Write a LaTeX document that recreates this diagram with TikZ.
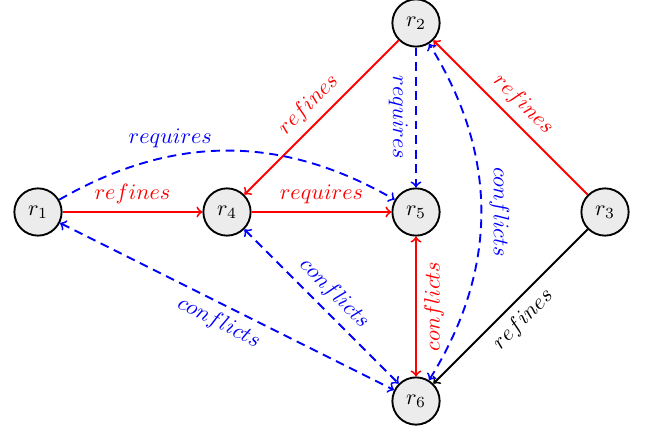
\documentclass[tikz,border=0pt]{standalone}
\begin{document}
\begin{tikzpicture}[
  st/.style={circle, draw, line width=0.85pt, fill=gray!15, minimum size=0.75cm, inner sep=0pt},
  redarr/.style={->, line width=0.85pt, red},
  blackarr/.style={->, line width=0.85pt, black},
  bluedash/.style={line width=0.85pt, blue, dash pattern=on 4pt off 2.6pt}
]
\useasboundingbox (-0.603,-3.492) rectangle (9.698,3.365);
\node[st] (r1) at (0,0) {$r_1$};
\node[st] (r4) at (3,0) {$r_4$};
\node[st] (r5) at (6,0) {$r_5$};
\node[st] (r3) at (9,0) {$r_3$};
\node[st] (r2) at (6,3) {$r_2$};
\node[st] (r6) at (6,-3) {$r_6$};

\draw[redarr] (r1) -- node[above]{$refines$} (r4);
\draw[redarr] (r4) -- node[above]{$requires$} (r5);
\draw[redarr] (r2) -- node[above, sloped]{$refines$} (r4);
\draw[redarr] (r3) -- node[above, sloped]{$refines$} (r2);
\draw[blackarr] (r3) -- node[below, sloped]{$refines$} (r6);
\draw[line width=0.85pt, red, <->] (r5) -- node[midway, rotate=90, anchor=north]{$conflicts$} (r6);
\draw[bluedash, ->] (r2) -- node[midway, rotate=-90, anchor=north]{$requires$} (r5);
\draw[bluedash, ->] (r1) to[bend left=30] node[pos=0.33, above]{$requires$} (r5);
\draw[bluedash, <->] (r4) -- node[above, sloped]{$conflicts$} (r6);
\draw[bluedash, <->] (r1) -- node[below, sloped]{$conflicts$} (r6);
\draw[bluedash, <->] (r6) to[bend right=32] node[midway, rotate=-90, anchor=south]{$conflicts$} (r2);
\end{tikzpicture}
\end{document}
